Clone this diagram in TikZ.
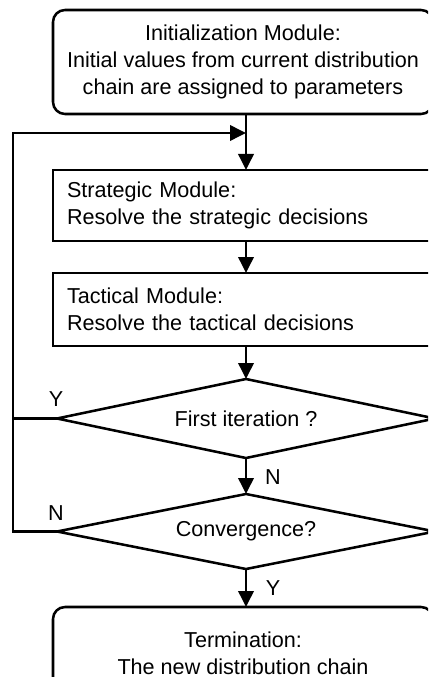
\documentclass[tikz,border=0pt]{standalone}
\usepackage{fontspec}
\setmainfont{Liberation Sans}
\usetikzlibrary{arrows.meta,shapes.geometric}

\tikzset{every picture/.style={line width=1.9pt}}
\tikzset{
	flowfont/.style={font=\fontsize{16.2}{20.3}\selectfont},
	modbox/.style={draw, rectangle, inner xsep=10.5pt, text width=268.5pt, align=left, outer sep=0pt, flowfont},
	endbox/.style={draw, rectangle, rounded corners=9pt, minimum width=285pt, align=center, outer sep=0pt, flowfont},
	decision/.style={draw, diamond, aspect=4.8, inner sep=0pt, minimum width=283.5pt, outer sep=0pt, flowfont},
	flow/.style={-{Triangle[length=12pt,width=11.5pt]}},
	ynlabel/.style={flowfont}}

\begin{document}
\begin{tikzpicture}[x=0.75pt,y=0.75pt,yscale=-1,xscale=1]
	\useasboundingbox (0,0) rectangle (428,677);
	\clip (0,0) rectangle (428,677);

	%Rounded Rect [id:init]
	\node [endbox, minimum height=78pt] (init) at (243,62) {Initialization Module:\\Initial values from current distribution\\chain are assigned to parameters};
	%Shape: Rectangle [id:strat]
	\node [modbox, minimum height=53.25pt] (strat) at (246,205.5) {Strategic Module:\\Resolve the strategic decisions};
	%Shape: Rectangle [id:tact]
	\node [modbox, minimum height=54.75pt] (tact) at (246,309.5) {Tactical Module:\\Resolve the tactical decisions};
	%Shape: Diamond [id:first]
	\node [decision, minimum height=59.25pt] (first) at (246,418.5) {First iteration ?};
	%Shape: Diamond [id:conv]
	\node [decision, minimum height=56.25pt] (conv) at (246,531.5) {Convergence?};
	%Rounded Rect [id:term]
	\node [endbox, minimum height=69pt] (term) at (243,653) {Termination:\\The new distribution chain};

	\coordinate (join) at (246,133);
	\coordinate (loop) at (13,133);

	%Straight Lines
	\draw [flow] (init.south -| strat.north) -- (strat.north);
	\draw [flow] (strat) -- (tact);
	\draw [flow] (tact) -- (first);
	\draw [flow] (first) -- (conv);
	\draw [flow] (conv.south) -- (term.north -| conv.south);
	%Feedback loop
	\draw [flow] (conv.west) -| (loop) -- (join);
	\draw (first.west) -- (first.west -| loop);

	% Text Node
	\node [ynlabel] (yfirst) at (56,399) {Y};
	% Text Node
	\node [ynlabel] (nfirst) at (273,477) {N};
	% Text Node
	\node [ynlabel] (nconv) at (56,513) {N};
	% Text Node
	\node [ynlabel] (yconv) at (273,588) {Y};

\end{tikzpicture}
\end{document}
